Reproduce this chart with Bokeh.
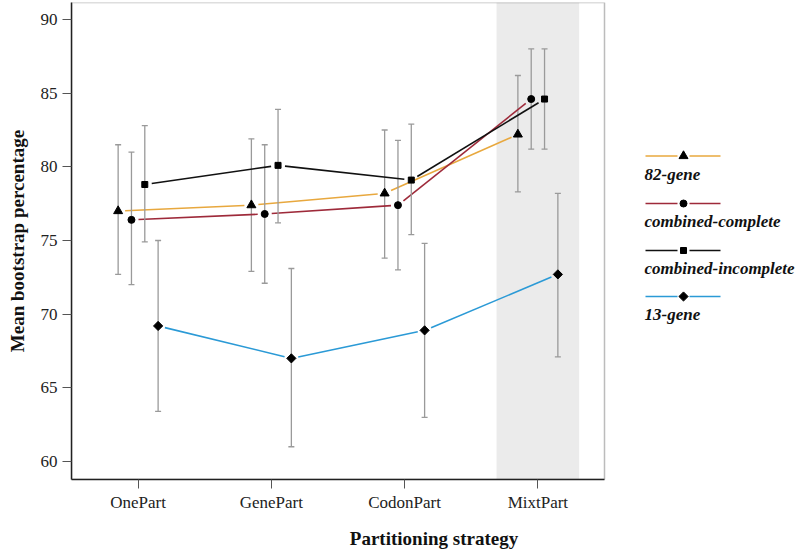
import math
from bokeh.plotting import figure
from bokeh.models import Range1d, FixedTicker, BoxAnnotation
from bokeh.core.properties import value
from bokeh.embed import file_html
from bokeh.resources import INLINE

# ---- data ----
categories = ["OnePart", "GenePart", "CodonPart", "MixtPart"]
series_names = ["82-gene", "combined-complete", "combined-incomplete", "13-gene"]

gene82_mean = [77.0, 77.4, 78.2, 82.2]
gene82_lo = [72.7, 72.9, 73.8, 78.3]
gene82_hi = [81.5, 81.9, 82.5, 86.2]

cc_mean = [76.4, 76.8, 77.4, 84.6]
cc_lo = [72.0, 72.1, 73.0, 81.2]
cc_hi = [81.0, 81.5, 81.8, 88.0]

ci_mean = [78.8, 80.1, 79.1, 84.6]
ci_lo = [74.9, 76.2, 75.4, 81.2]
ci_hi = [82.8, 83.9, 82.9, 88.0]

g13_mean = [69.2, 67.0, 68.9, 72.7]
g13_lo = [63.4, 61.0, 63.0, 67.1]
g13_hi = [75.0, 73.1, 74.8, 78.2]

highlight_category = "MixtPart"

# ---- styles / layout ----
colors = ["#e8a83e", "#9e2a3a", "#111111", "#2b9ad6"]
markers = ["triangle", "circle", "square", "square"]
mangles = [0, 0, 0, math.pi / 4]
msizes = [9, 7, 6, 6.5]
offsets = [-0.15, -0.05, 0.05, 0.15]
FONT = "Liberation Serif"

W, H = 796, 552
BL, BR, BT, BB = 71, 0, 2, 73
sx = 533 / 4.0            # px per category
sy = 442 / 30.0           # px per percentage point
x0 = 0.5
x1 = x0 + (W - BL - BR) / sx
y1 = 90 + 17 / sy
y0 = y1 - (H - BT - BB) / sy
plot_right = 4.5


def xd(px):  # canvas px from left -> data x
    return x0 + (px - BL) / sx


def yd(py):  # canvas px from top -> data y
    return y1 - (py - BT) / sy


p = figure(width=W, height=H, x_range=Range1d(x0, x1), y_range=Range1d(y0, y1),
           output_backend="svg", toolbar_location=None,
           min_border_left=BL, min_border_right=BR, min_border_top=BT, min_border_bottom=BB)
p.xgrid.visible = False
p.ygrid.visible = False
p.outline_line_color = None
p.background_fill_color = "white"
p.border_fill_color = "white"

hi_idx = categories.index(highlight_category) + 1
p.add_layout(BoxAnnotation(left=hi_idx - 0.31, right=hi_idx + 0.31, fill_color="#ebebeb",
                           fill_alpha=1.0, line_color=None, level="underlay"))
p.add_layout(BoxAnnotation(left=x0, right=plot_right, bottom=y0, top=y1, fill_alpha=0,
                           fill_color=None, line_color="#222222", line_width=1.5, level="overlay"))

all_means = [gene82_mean, cc_mean, ci_mean, g13_mean]
all_lo = [gene82_lo, cc_lo, ci_lo, g13_lo]
all_hi = [gene82_hi, cc_hi, ci_hi, g13_hi]

gap = 7.0
cap = 3.0 / sx
for k in range(4):
    xs = [i + 1 + offsets[k] for i in range(len(categories))]
    ys = all_means[k]
    sx0, sy0, sx1, sy1 = [], [], [], []
    for i in range(len(xs) - 1):
        dxp = (xs[i + 1] - xs[i]) * sx
        dyp = (ys[i + 1] - ys[i]) * sy
        L = math.hypot(dxp, dyp)
        ux, uy = dxp / L, dyp / L
        sx0.append(xs[i] + gap * ux / sx)
        sy0.append(ys[i] + gap * uy / sy)
        sx1.append(xs[i + 1] - gap * ux / sx)
        sy1.append(ys[i + 1] - gap * uy / sy)
    p.segment(x0=sx0, y0=sy0, x1=sx1, y1=sy1, line_color=colors[k], line_width=1.6)
    p.segment(x0=xs, x1=xs, y0=all_lo[k], y1=all_hi[k], line_color="#9a9a9a", line_width=1.3)
    p.segment(x0=[x - cap for x in xs], x1=[x + cap for x in xs], y0=all_hi[k], y1=all_hi[k],
              line_color="#9a9a9a", line_width=1.3)
    p.segment(x0=[x - cap for x in xs], x1=[x + cap for x in xs], y0=all_lo[k], y1=all_lo[k],
              line_color="#9a9a9a", line_width=1.3)
    p.scatter(xs, ys, marker=markers[k], size=msizes[k], angle=mangles[k],
              fill_color="black", line_color="black")

# ---- legend (right of the plot box) ----
leg_line_y = [155.5, 203, 250, 296]
for k in range(4):
    ly = yd(leg_line_y[k])
    p.segment(x0=[xd(645), xd(689)], x1=[xd(677), xd(720)], y0=[ly, ly], y1=[ly, ly],
              line_color=colors[k], line_width=1.6)
    p.scatter([xd(683)], [ly], marker=markers[k], size=msizes[k], angle=mangles[k],
              fill_color="black", line_color="black")
    p.text(x=[xd(644)], y=[yd(leg_line_y[k] + 18)], text=[series_names[k]], text_font=value(FONT),
           text_font_size="17px", text_font_style="bold italic", text_color="#111111",
           text_baseline="middle", text_align="left")

p.xaxis.ticker = FixedTicker(ticks=list(range(1, len(categories) + 1)))
p.xaxis.major_label_overrides = {i + 1: c for i, c in enumerate(categories)}
p.xaxis.bounds = (x0, plot_right)
p.yaxis.ticker = FixedTicker(ticks=[60, 65, 70, 75, 80, 85, 90])
p.xaxis.axis_label = "Partitioning strategy"
p.yaxis.axis_label = "Mean bootstrap percentage"
for ax in (p.xaxis[0], p.yaxis[0]):
    ax.axis_line_color = "#222222"
    ax.axis_line_width = 1.5
    ax.major_tick_line_color = "#555555"
    ax.major_tick_out = 9
    ax.major_tick_in = 0
    ax.minor_tick_line_color = None
    ax.major_label_text_font = FONT
    ax.major_label_text_font_size = "17px"
    ax.major_label_text_color = "#222222"
    ax.axis_label_text_font = FONT
    ax.axis_label_text_font_size = "19px"
    ax.axis_label_text_font_style = "bold"
    ax.axis_label_text_color = "#111111"
p.xaxis.major_label_standoff = 4
p.xaxis.axis_label_standoff = 13
p.yaxis.major_label_standoff = 5
p.yaxis.axis_label_standoff = 10

open("out.html", "w").write(file_html(p, INLINE))
